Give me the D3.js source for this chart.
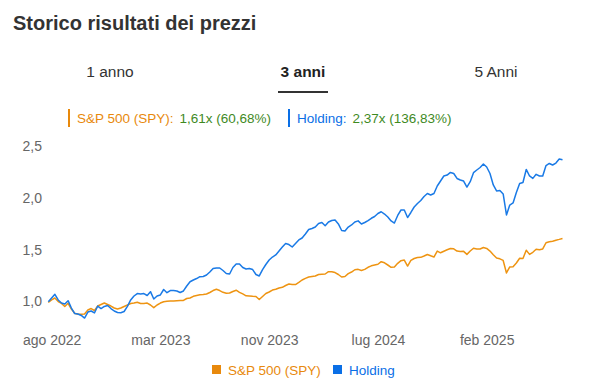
<!DOCTYPE html>
<html>
<head>
<meta charset="utf-8">
<script src="https://cdn.jsdelivr.net/npm/d3@7"></script>
<style>
  body { margin: 0; background: #fff; }
  svg { font-family: "Liberation Sans", Arial, sans-serif; }
</style>
</head>
<body>
<div id="chart"></div>
<script>
// weekly data, first point 2022-08-05
const startDate = "2022-08-05";

const holding = [
  0.998, 1.034, 1.070, 1.015, 0.985, 0.976, 1.008, 0.937, 0.884, 0.879,
  0.865, 0.840, 0.898, 0.908, 0.889, 0.956, 0.932, 0.952, 0.961, 0.932,
  0.908, 0.894, 0.892, 0.903, 0.952, 1.015, 1.053, 1.077, 1.073, 1.077,
  1.058, 1.095, 1.024, 1.053, 1.063, 1.116, 1.085, 1.106, 1.106, 1.102,
  1.087, 1.102, 1.150, 1.191, 1.208, 1.222, 1.240, 1.242, 1.256, 1.285,
  1.319, 1.324, 1.324, 1.300, 1.271, 1.266, 1.329, 1.363, 1.363, 1.329,
  1.314, 1.319, 1.309, 1.261, 1.247, 1.309, 1.358, 1.401, 1.430, 1.450,
  1.488, 1.527, 1.561, 1.551, 1.527, 1.561, 1.595, 1.614, 1.653, 1.696,
  1.706, 1.720, 1.754, 1.764, 1.732, 1.769, 1.783, 1.788, 1.750, 1.687,
  1.682, 1.720, 1.740, 1.769, 1.780, 1.750, 1.764, 1.783, 1.805, 1.822,
  1.851, 1.868, 1.846, 1.817, 1.779, 1.759, 1.832, 1.885, 1.885, 1.812,
  1.861, 1.914, 1.948, 1.977, 2.015, 2.044, 2.030, 2.044, 2.117, 2.165,
  2.214, 2.223, 2.248, 2.238, 2.190, 2.175, 2.165, 2.107, 2.159, 2.246,
  2.272, 2.296, 2.330, 2.301, 2.238, 2.127, 2.069, 2.073, 2.040, 1.837,
  1.933, 1.953, 2.054, 2.141, 2.151, 2.277, 2.214, 2.191, 2.230, 2.214,
  2.214, 2.315, 2.335, 2.320, 2.339, 2.378, 2.370
];

const spy = [
  0.990, 1.015, 1.034, 1.000, 0.981, 0.952, 0.983, 0.927, 0.886, 0.876,
  0.876, 0.879, 0.918, 0.932, 0.913, 0.956, 0.971, 0.985, 0.971, 0.956,
  0.937, 0.927, 0.937, 0.952, 0.966, 0.981, 0.985, 0.993, 0.981, 0.981,
  0.985, 0.966, 0.940, 0.966, 0.985, 0.998, 1.002, 1.005, 1.005, 1.008,
  1.010, 1.010, 1.029, 1.034, 1.050, 1.058, 1.065, 1.068, 1.073, 1.087,
  1.106, 1.118, 1.106, 1.089, 1.079, 1.082, 1.097, 1.109, 1.089, 1.073,
  1.055, 1.053, 1.050, 1.048, 1.019, 1.048, 1.077, 1.092, 1.111, 1.118,
  1.131, 1.137, 1.155, 1.169, 1.164, 1.164, 1.184, 1.208, 1.224, 1.237,
  1.242, 1.247, 1.261, 1.264, 1.266, 1.288, 1.288, 1.280, 1.261, 1.237,
  1.242, 1.269, 1.285, 1.307, 1.311, 1.300, 1.311, 1.331, 1.345, 1.353,
  1.360, 1.385, 1.374, 1.353, 1.331, 1.334, 1.369, 1.395, 1.401, 1.343,
  1.397, 1.416, 1.425, 1.427, 1.440, 1.455, 1.442, 1.430, 1.488, 1.471,
  1.486, 1.500, 1.513, 1.510, 1.488, 1.484, 1.485, 1.456, 1.488, 1.515,
  1.508, 1.508, 1.522, 1.513, 1.488, 1.452, 1.421, 1.413, 1.397, 1.276,
  1.334, 1.336, 1.372, 1.418, 1.416, 1.495, 1.456, 1.476, 1.505, 1.500,
  1.508, 1.568, 1.578, 1.583, 1.593, 1.601, 1.610
];

const tickDates = ["2022-08-12", "2023-03-31", "2023-11-17", "2024-07-05", "2025-02-21"];
const tickLabels = ["ago 2022", "mar 2023", "nov 2023", "lug 2024", "feb 2025"];
const yTicks = [1.0, 1.5, 2.0, 2.5];

const tabs = ["1 anno", "3 anni", "5 Anni"];
const activeTab = 1;

const seriesNames = ["S&P 500 (SPY)", "Holding"];
const seriesColors = ["#ee9412", "#1a7ae6"];
const legendColors = ["#e8890c", "#0a6fe6"];
const summaryText = ["1,61x (60,68%)", "2,37x (136,83%)"];

const W = 593, H = 384;
const parse = d3.utcParse("%Y-%m-%d");
const t0 = parse(startDate);
const dates = holding.map((d, i) => d3.utcDay.offset(t0, i * 7));

const svg = d3.select("#chart")
  .append("svg")
  .attr("width", W)
  .attr("height", H);

// title
svg.append("text")
  .attr("x", 13)
  .attr("y", 30)
  .attr("font-size", "20px")
  .attr("font-weight", "bold")
  .attr("fill", "#333")
  .text("Storico risultati dei prezzi");

// tabs
const tabX = d3.scalePoint().domain(tabs).range([110, 496]);
svg.selectAll(".tab")
  .data(tabs)
  .enter()
  .append("text")
  .attr("class", "tab")
  .attr("x", (d) => tabX(d))
  .attr("y", 77)
  .attr("text-anchor", "middle")
  .attr("font-size", "15.5px")
  .attr("font-weight", (d, i) => (i === activeTab ? "bold" : "normal"))
  .attr("fill", (d, i) => (i === activeTab ? "#222" : "#333"))
  .text((d) => d);

svg.append("rect")
  .attr("x", tabX(tabs[activeTab]) - 25)
  .attr("y", 91)
  .attr("width", 50)
  .attr("height", 2)
  .attr("fill", "#333");

// top summary legend
const topX = [69, 289];
seriesNames.forEach((name, i) => {
  svg.append("rect")
    .attr("x", topX[i] - 1)
    .attr("y", 109)
    .attr("width", 2)
    .attr("height", 18)
    .attr("fill", legendColors[i]);
  const t = svg.append("text")
    .attr("x", topX[i] + 8)
    .attr("y", 122.5)
    .attr("font-size", "13.5px");
  t.append("tspan")
    .attr("fill", legendColors[i])
    .text((i === 0 ? "S&P 500 (SPY)" : "Holding") + ":");
  t.append("tspan")
    .attr("dx", 6)
    .attr("fill", "#3f8a1f")
    .text(summaryText[i]);
});

// scales
const x = d3.scaleUtc()
  .domain([dates[0], dates[dates.length - 1]])
  .range([48.3, 562.5]);

const y = d3.scaleLinear()
  .domain([1, 2.5])
  .range([301.5, 146.4]);

// y axis labels
svg.append("g")
  .attr("transform", "translate(42,0)")
  .call(d3.axisLeft(y).tickValues(yTicks).tickSize(0).tickPadding(0)
    .tickFormat((d) => d3.format(".1f")(d).replace(".", ",")))
  .call((g) => g.select(".domain").remove())
  .selectAll("text")
  .attr("font-size", "14px")
  .attr("font-family", "Liberation Sans, Arial, sans-serif")
  .attr("fill", "#666");

// x axis labels
svg.append("g")
  .attr("transform", "translate(0,330)")
  .call(d3.axisBottom(x).tickValues(tickDates.map(parse)).tickSize(0).tickPadding(0)
    .tickFormat((d, i) => tickLabels[i]))
  .call((g) => g.select(".domain").remove())
  .selectAll("text")
  .attr("dy", "15px")
  .attr("font-size", "14px")
  .attr("font-family", "Liberation Sans, Arial, sans-serif")
  .attr("fill", "#666");

// lines
const line = d3.line()
  .x((d, i) => x(dates[i]))
  .y((d) => y(d));

[spy, holding].forEach((s, i) => {
  svg.append("path")
    .datum(s)
    .attr("fill", "none")
    .attr("stroke", seriesColors[i])
    .attr("stroke-width", 1.5)
    .attr("stroke-linejoin", "round")
    .attr("d", line);
});

// bottom legend
const legX = [212, 333];
seriesNames.forEach((name, i) => {
  svg.append("rect")
    .attr("x", legX[i])
    .attr("y", 365)
    .attr("width", 9)
    .attr("height", 9)
    .attr("fill", legendColors[i]);
  svg.append("text")
    .attr("x", legX[i] + 16)
    .attr("y", 375)
    .attr("font-size", "13.5px")
    .attr("fill", legendColors[i])
    .text(name);
});
</script>
</body>
</html>
